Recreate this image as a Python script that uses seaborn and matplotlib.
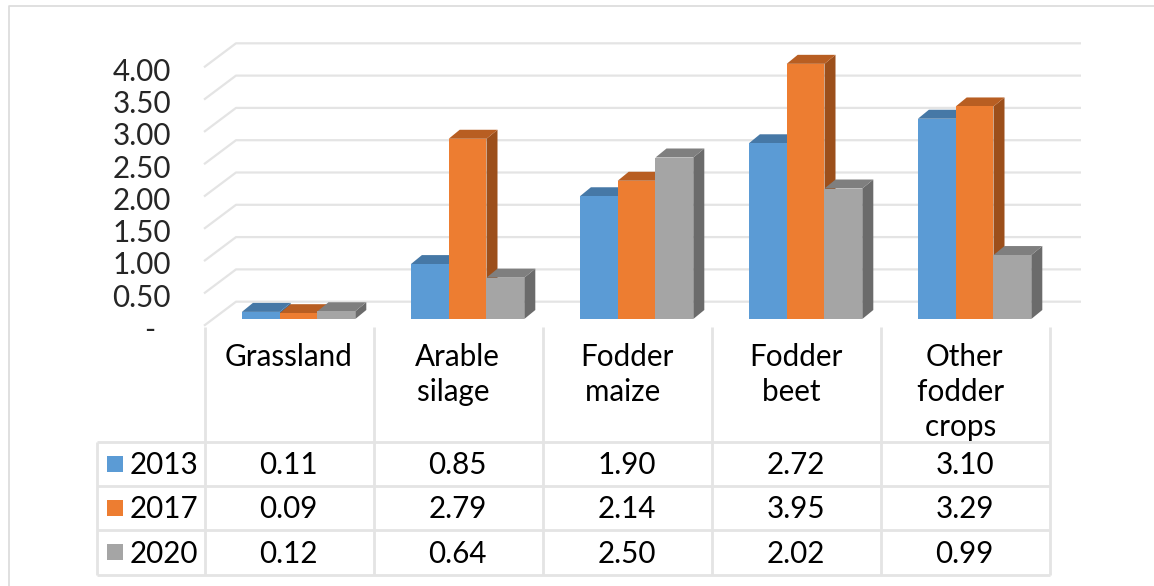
import matplotlib
matplotlib.use("Agg")
import matplotlib.pyplot as plt
from matplotlib.patches import Polygon, Rectangle
from matplotlib.transforms import Affine2D, ScaledTranslation
import pandas as pd
import seaborn as sns

# values from the data table under the chart
categories = ["Grassland", "Arable silage", "Fodder maize", "Fodder beet", "Other fodder crops"]
# trailing spaces: the wrapped lines sit slightly left in the original
category_lines = ["Grassland", "Arable\nsilage ", "Fodder\nmaize ", "Fodder\nbeet ", "Other\nfodder \ncrops "]
years = ["2013", "2017", "2020"]
values_2013 = [0.11, 0.85, 1.90, 2.72, 3.10]
values_2017 = [0.09, 2.79, 2.14, 3.95, 3.29]
values_2020 = [0.12, 0.64, 2.50, 2.02, 0.99]
y_ticks = [0.5, 1.0, 1.5, 2.0, 2.5, 3.0, 3.5, 4.0]

front = ["#5B9BD5", "#ED7D31", "#A5A5A5"]
top = ["#4678A6", "#B85E22", "#7F7F7F"]
side = ["#3F6C96", "#9C4F1B", "#6B6B6B"]
line_col = "#E4E4E4"

W, H = 1154, 586
PX_PER_UNIT = 64.6
BASE = 319       # bar bottoms, pixels from top
CENTER0 = 298.6  # centre of first group
STEP = 169

sns.set_theme(style="white")
plt.rcParams["font.family"] = ["Lato", "DejaVu Sans"]
plt.rcParams["text.color"] = "black"

df = pd.DataFrame({
    "category": categories * 3,
    "year": [y for y in years for _ in categories],
    "value": values_2013 + values_2017 + values_2020,
})

fig = plt.figure(figsize=(W / 100, H / 100), dpi=100, facecolor="white")
left, right, upper = 205, 1050, 43
ax = fig.add_axes([left / W, 1 - BASE / H, (right - left) / W, (BASE - upper) / H])
sns.barplot(data=df, x="category", y="value", hue="year", hue_order=years,
            palette=front, width=0.671, gap=0, saturation=1, legend=False, ax=ax,
            zorder=3, linewidth=0)
ax.set_xlim((left - CENTER0) / STEP, (right - CENTER0) / STEP)
ax.set_ylim(0, (BASE - upper) / PX_PER_UNIT)
ax.patch.set_alpha(0)
ax.set_xlabel("")
ax.set_ylabel("")
ax.set_xticks([])
sns.despine(ax=ax, left=True, bottom=True)

# tick labels sit on the front plane, a little lower than the bars' base
ax.set_yticks([0] + y_ticks)
ax.set_yticklabels(["-  "] + [f"{t:.2f}" for t in y_ticks], fontsize=21.3)
ax.tick_params(axis="y", length=0, pad=24.5)
shift = ScaledTranslation(0, -11 / 100, fig.dpi_scale_trans)
for lab in ax.get_yticklabels():
    lab.set_transform(lab.get_transform() + shift)
    lab.set_verticalalignment("center")

# pixel coordinates for everything around the bars
px = Affine2D().scale(1 / W, -1 / H).translate(0, 1) + fig.transFigure


def pline(xs, ys, lw=2.0, color=line_col, z=0.5):
    ax.plot(xs, ys, transform=px, clip_on=False, color=color, lw=lw, zorder=z,
            solid_capstyle="butt")


# outer frame
pline([9, 9, W], [H, 6, 6], lw=1.2, color="#DADADA")

# floor and back wall gridlines
for v in [0] + y_ticks:
    y_back = 301.7 - v * PX_PER_UNIT
    pline([204, 236, 1081], [y_back + 24, y_back, y_back], lw=1.6)

# 3D faces of the bars, built from the bars seaborn drew
DX, DY = 11, 9
to_px = ax.transData + px.inverted()
for i, container in enumerate(ax.containers):
    for bar in container:
        (x0, y1), (x1, y0) = to_px.transform([(bar.get_x(), bar.get_height()),
                                              (bar.get_x() + bar.get_width(), 0)])
        ax.add_patch(Polygon([(x0, y1), (x1, y1), (x1 + DX, y1 - DY), (x0 + DX, y1 - DY)],
                             closed=True, fc=top[i], ec="none", transform=px,
                             clip_on=False, zorder=2.9 + i * 0.1 - 0.3))
        ax.add_patch(Polygon([(x1, y1), (x1 + DX, y1 - DY), (x1 + DX, y0 - DY), (x1, y0)],
                             closed=True, fc=side[i], ec="none", transform=px,
                             clip_on=False, zorder=2.5 + i * 0.1))

# data table
col_x = [left + STEP * i for i in range(6)]
row_y = [442, 486, 530, 574.5]
for x in col_x:
    pline([x, x], [327, row_y[-1]], z=1)
pline([97, 97], [row_y[0], row_y[-1]], z=1)
for y in row_y:
    pline([97, right], [y, y], z=1)

for i, label in enumerate(category_lines):
    cx = col_x[i] + STEP / 2 - 1
    ax.text(cx, 342.5, label, transform=px, ha="center", va="top", fontsize=21.3,
            linespacing=1.31, clip_on=False)

series = [values_2013, values_2017, values_2020]
for r, year in enumerate(years):
    yc = (row_y[r] + row_y[r + 1]) / 2
    ax.add_patch(Rectangle((107, yc - 8), 16, 16, fc=front[r], ec="none", transform=px,
                           clip_on=False))
    ax.text(130, yc + 1.5, year, transform=px, ha="left", va="center", fontsize=21.3, clip_on=False)
    for c, val in enumerate(series[r]):
        ax.text(col_x[c] + STEP / 2 - 1, yc + 1.5, f"{val:.2f}", transform=px, ha="center",
                va="center", fontsize=21.3, clip_on=False)

fig.savefig("out.png", dpi=100)
